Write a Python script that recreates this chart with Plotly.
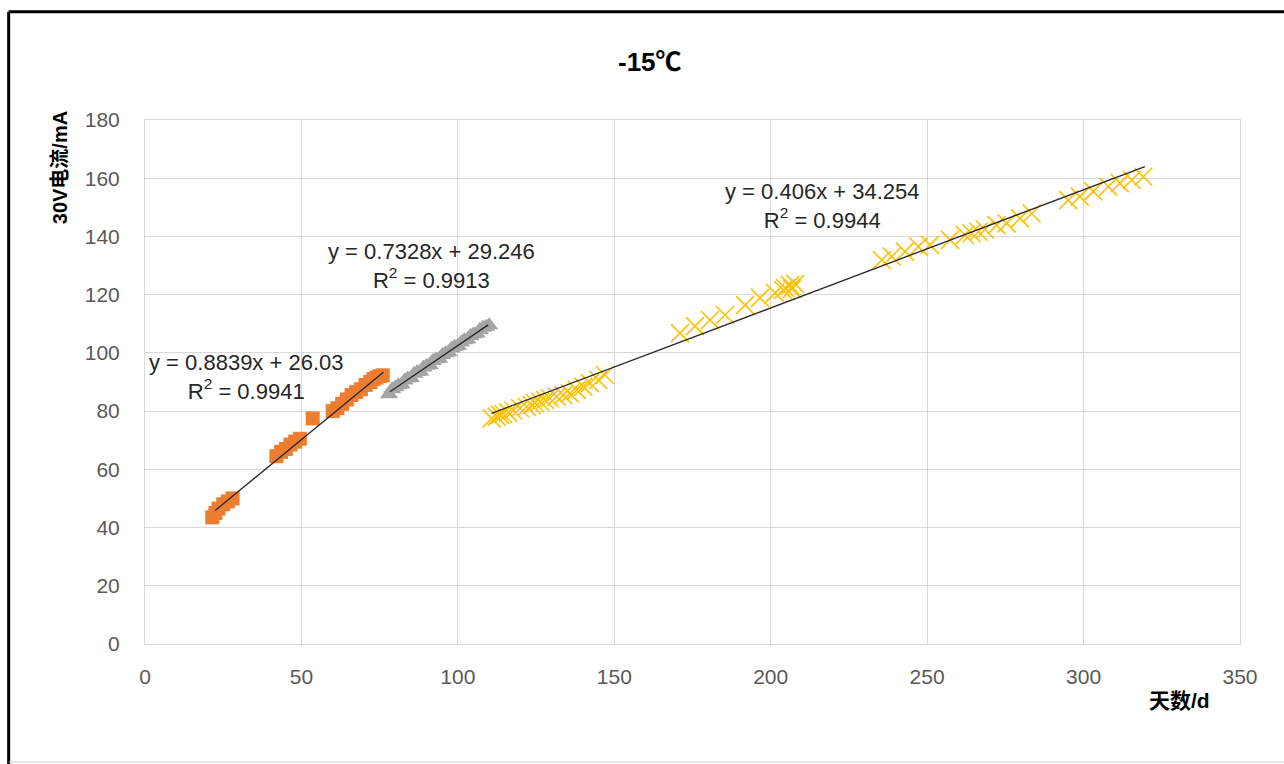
import plotly.graph_objects as go

# ---------------- data ----------------
orange_x = [21.5, 22.5, 23.5, 25.0, 26.5, 28.0,
            42.0, 43.5, 45.0, 46.5, 48.0, 49.5,
            53.6,
            60.0, 61.5, 63.0, 64.5, 66.0, 67.5, 69.0, 70.5, 72.0, 73.0, 74.0, 75.0, 76.0]
orange_y = [43.5, 45.0, 46.5, 48.0, 49.0, 50.0,
            64.5, 66.0, 67.0, 68.5, 69.5, 70.5,
            77.5,
            80.0, 81.0, 82.5, 84.0, 85.5, 86.5, 87.5, 89.0, 90.0, 91.0, 91.5, 92.0, 92.3]

gray_x = [78, 79, 80, 81, 82, 83, 84, 85, 86, 87, 88, 89, 90, 91, 92, 93, 94,
          95, 96, 97, 98, 99, 100, 101, 102, 103, 104, 105, 106, 107, 108, 109, 110]
gray_y = [85.8, 87.5, 88.2, 88.9, 89.1, 90.5, 91.2, 91.4, 92.8, 93.4, 93.6, 95.0,
          95.6, 95.8, 97.2, 97.8, 98.0, 99.3, 99.9, 100.2, 101.5, 102.1, 102.4,
          103.6, 104.3, 104.6, 105.8, 106.4, 106.7, 107.9, 108.6, 109.0, 109.5]

yellow_x = [110.8, 112.4, 113.5, 114.5, 116.1, 117.7, 119.9, 122.0, 123.6, 124.7,
            126.3, 127.9, 129.4, 131.6, 133.7, 135.8, 138.0, 140.1, 142.2, 144.9, 147.0,
            171.0, 175.8, 180.6, 185.4, 191.8, 196.6, 201.4, 203.9, 204.6, 206.2, 206.8, 207.8,
            235.5, 238.7, 242.9, 247.2, 250.9, 257.3, 262.1, 264.2, 266.4, 268.5,
            272.2, 275.4, 279.7, 283.4,
            295.1, 298.8, 303.1, 307.9, 311.6, 315.4, 319.1]
yellow_y = [77.5, 78.1, 78.7, 79.0, 79.5, 80.2, 81.0, 81.5, 82.1, 82.7,
            83.2, 83.8, 84.4, 85.0, 85.5, 86.1, 87.3, 88.4, 89.6, 90.7, 92.4,
            106.8, 109.2, 111.3, 113.0, 116.4, 118.9, 120.6, 121.6, 122.3, 123.3, 122.0, 123.7,
            131.9, 133.1, 134.8, 136.5, 137.1, 138.8, 140.5, 141.1, 141.6, 142.4,
            143.9, 144.5, 146.2, 147.9,
            152.5, 153.7, 155.5, 157.1, 158.3, 159.4, 160.5]

# trendline coefficients as given on the chart
trend_slope = [0.8839, 0.7328, 0.406]
trend_intercept = [26.03, 29.246, 34.254]
trend_r2 = ["0.9941", "0.9913", "0.9944"]
trend_label = ["y = 0.8839x + 26.03", "y = 0.7328x + 29.246", "y = 0.406x + 34.254"]
trend_xrange = [(22.4, 76.2), (78.3, 109.7), (110.8, 319.6)]

x_ticks = [0, 50, 100, 150, 200, 250, 300, 350]
y_ticks = [0, 20, 40, 60, 80, 100, 120, 140, 160, 180]

FONT = "Liberation Sans, Arial, Noto Sans CJK SC, sans-serif"
GRID = "#D9D9D9"

fig = go.Figure()

fig.add_trace(go.Scatter(x=orange_x, y=orange_y, mode="markers",
                         marker=dict(symbol="square", size=14, color="#ED7D31",
                                     line=dict(width=0)), showlegend=False))
fig.add_trace(go.Scatter(x=gray_x, y=gray_y, mode="markers",
                         marker=dict(symbol="triangle-up", size=16, color="#A5A5A5",
                                     line=dict(width=0)), showlegend=False))
fig.add_trace(go.Scatter(x=yellow_x, y=yellow_y, mode="markers",
                         marker=dict(symbol="x-thin", size=18, color="#FFC000",
                                     line=dict(width=1.6, color="#FFC000")), showlegend=False))

for m, b, (x0, x1) in zip(trend_slope, trend_intercept, trend_xrange):
    xs = [x0, x1]
    ys = [m * v + b for v in xs]
    fig.add_trace(go.Scatter(x=xs, y=ys, mode="lines",
                             line=dict(color="#262626", width=1.3), showlegend=False))

# equation labels
label_pos = [(32.3, 91.7), (91.7, 129.9), (216.7, 150.6)]
for (lx, ly), lab, r2 in zip(label_pos, trend_label, trend_r2):
    fig.add_annotation(x=lx, y=ly, xref="x", yref="y", xanchor="center", yanchor="middle",
                       text=lab + "<br>R<sup>2</sup> = " + r2,
                       showarrow=False, align="center",
                       font=dict(family=FONT, size=22, color="#262626"))

# titles
fig.add_annotation(x=0.461, y=1.111, xref="paper", yref="paper",
                   xanchor="center", yanchor="middle",
                   text="<b>-15℃</b>", showarrow=False,
                   font=dict(family=FONT, size=26, color="#000000"))
fig.add_annotation(x=-0.0776, y=0.908, xref="paper", yref="paper",
                   xanchor="center", yanchor="middle",
                   text="<b>30V电流/mA</b>", showarrow=False, textangle=-90,
                   font=dict(family=FONT, size=20, color="#000000"))
fig.add_annotation(x=0.945, y=-0.107, xref="paper", yref="paper",
                   xanchor="center", yanchor="middle",
                   text="<b>天数/d</b>", showarrow=False,
                   font=dict(family=FONT, size=21, color="#000000"))

# outer frame (left/top dark border, bottom light line)
fig.add_shape(type="line", xref="paper", yref="paper",
              x0=-0.1245, x1=-0.1245, y0=1.2067, y1=-0.26,
              line=dict(color="#000000", width=3))
fig.add_shape(type="line", xref="paper", yref="paper",
              x0=-0.1245, x1=1.06, y0=1.2067, y1=1.2067,
              line=dict(color="#000000", width=3))
fig.add_shape(type="line", xref="paper", yref="paper",
              x0=-0.1245, x1=1.06, y0=-0.2252, y1=-0.2252,
              line=dict(color="#D0D0D0", width=1))

fig.update_xaxes(range=[0, 350], tickvals=x_ticks, ticktext=[str(v) for v in x_ticks],
                 showgrid=True, gridcolor=GRID, gridwidth=1,
                 showline=True, linecolor=GRID, linewidth=1, mirror=True,
                 zeroline=False, ticks="", ticklabelstandoff=14,
                 tickfont=dict(family=FONT, size=21, color="#595959"))
fig.update_yaxes(range=[0, 180], tickvals=y_ticks, ticktext=[str(v) for v in y_ticks],
                 showgrid=True, gridcolor=GRID, gridwidth=1,
                 showline=True, linecolor=GRID, linewidth=1, mirror=True,
                 zeroline=False, ticks="", ticklabelstandoff=20,
                 tickfont=dict(family=FONT, size=21, color="#595959"))

fig.update_layout(width=1284, height=764, autosize=False,
                  margin=dict(l=145, r=44, t=120, b=120),
                  paper_bgcolor="white", plot_bgcolor="white",
                  showlegend=False)

fig.write_html("out.html")
